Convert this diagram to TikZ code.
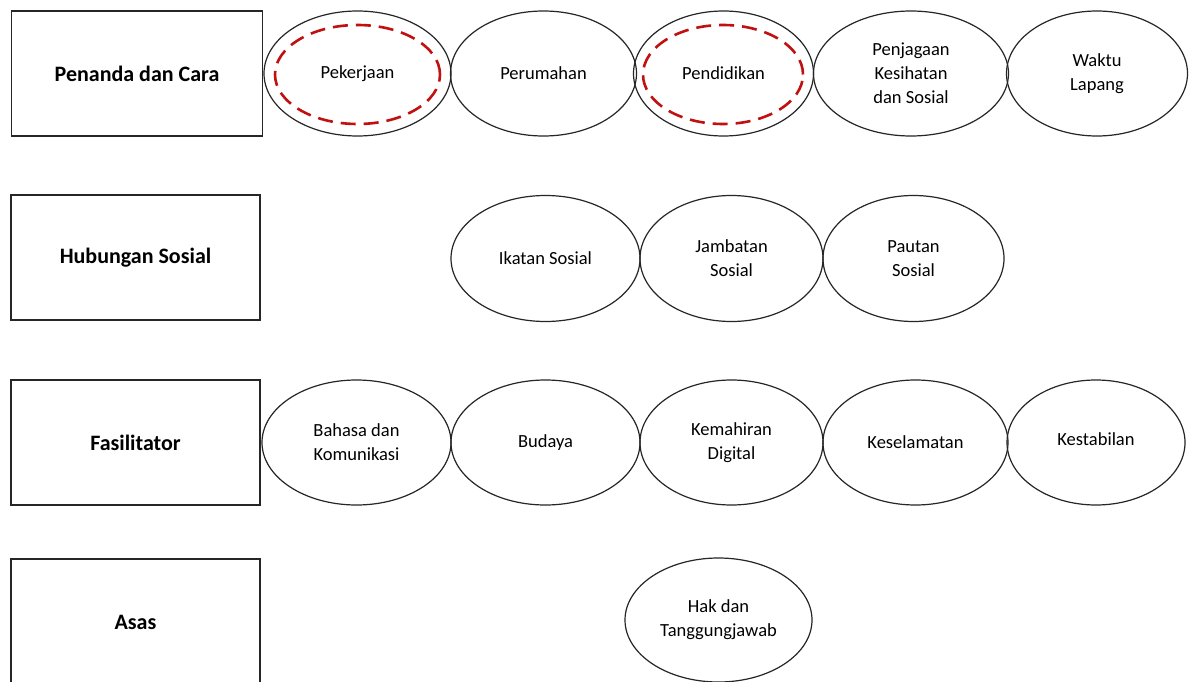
\documentclass[tikz,border=0pt]{standalone}
\usepackage{fontspec}
\setmainfont{Carlito}
\usetikzlibrary{shapes.geometric}
\definecolor{dashred}{RGB}{192,16,16}
\tikzset{
  catbox/.style={draw=black!85, line width=1.3pt, rectangle, inner sep=0pt,
    minimum width=251pt, minimum height=125pt, font=\fontsize{22}{26}\selectfont\bfseries},
  item/.style={draw=black!85, line width=1.2pt, ellipse, inner sep=0pt,
    align=center, font=\fontsize{18.5}{24}\selectfont},
  mark ring/.style={draw=dashred, line width=2.6pt, ellipse, inner sep=0pt,
    dash pattern=on 15pt off 8pt}
}
\begin{document}
\begin{tikzpicture}[x=1pt,y=-1pt]
\useasboundingbox[fill=white] (0,0) rectangle (1189,682);
% category boxes
\node[catbox] (b1) at (137,73.5) {Penanda dan Cara};
\node[catbox, minimum width=249pt] (b2) at (135.5,257.5) {Hubungan Sosial};
\node[catbox, minimum width=249pt] (b3) at (135.5,442.5) {Fasilitator};
\node[catbox, minimum width=249pt, minimum height=131pt] (b4) at (135.5,624.5) {};
\node[font=\fontsize{22}{26}\selectfont\bfseries] (b4t) at (135.5,622) {Asas};
% row 1
\node[item, minimum width=187pt, minimum height=125pt] (e11) at (357.5,73.5) {Pekerjaan};
\node[item, minimum width=186pt, minimum height=125pt] (e12) at (543.5,73.5) {Perumahan};
\node[item, minimum width=180pt, minimum height=125pt] (e13) at (723.5,73.5) {Pendidikan};
\node[item, minimum width=195pt, minimum height=125pt] (e14) at (911,73.5) {Penjagaan\\Kesihatan\\dan Sosial};
\node[item, minimum width=181pt, minimum height=125pt] (e15) at (1097,73.5) {Waktu\\Lapang};
\node[mark ring, minimum width=165pt, minimum height=99pt] (r1) at (357.5,74.5) {};
\node[mark ring, minimum width=160pt, minimum height=99pt] (r2) at (723,74.5) {};
% row 2
\node[item, minimum width=189pt, minimum height=126pt] (e21) at (545.5,258.5) {Ikatan Sosial};
\node[item, minimum width=183pt, minimum height=126pt] (e22) at (731.5,258.5) {Jambatan\\Sosial};
\node[item, minimum width=181pt, minimum height=126pt] (e23) at (913.5,258.5) {Pautan\\Sosial};
% row 3
\node[item, minimum width=189pt, minimum height=125pt] (e31) at (356.5,442.5) {Bahasa dan\\Komunikasi};
\node[item, minimum width=189pt, minimum height=125pt] (e32) at (545.5,442.5) {Budaya};
\node[item, minimum width=183pt, minimum height=125pt] (e33) at (731.5,442.5) {Kemahiran\\Digital};
\node[item, minimum width=185pt, minimum height=125pt] (e34) at (915.5,442.5) {Keselamatan};
\node[item, minimum width=178pt, minimum height=125pt] (e35) at (1096,442.5) {};
\node[font=\fontsize{18.5}{24}\selectfont] (e35t) at (1096,439) {Kestabilan};
% row 4
\node[item, minimum width=187pt, minimum height=124pt] (e41) at (718.5,620) {Hak dan\\Tanggungjawab};
\end{tikzpicture}
\end{document}
